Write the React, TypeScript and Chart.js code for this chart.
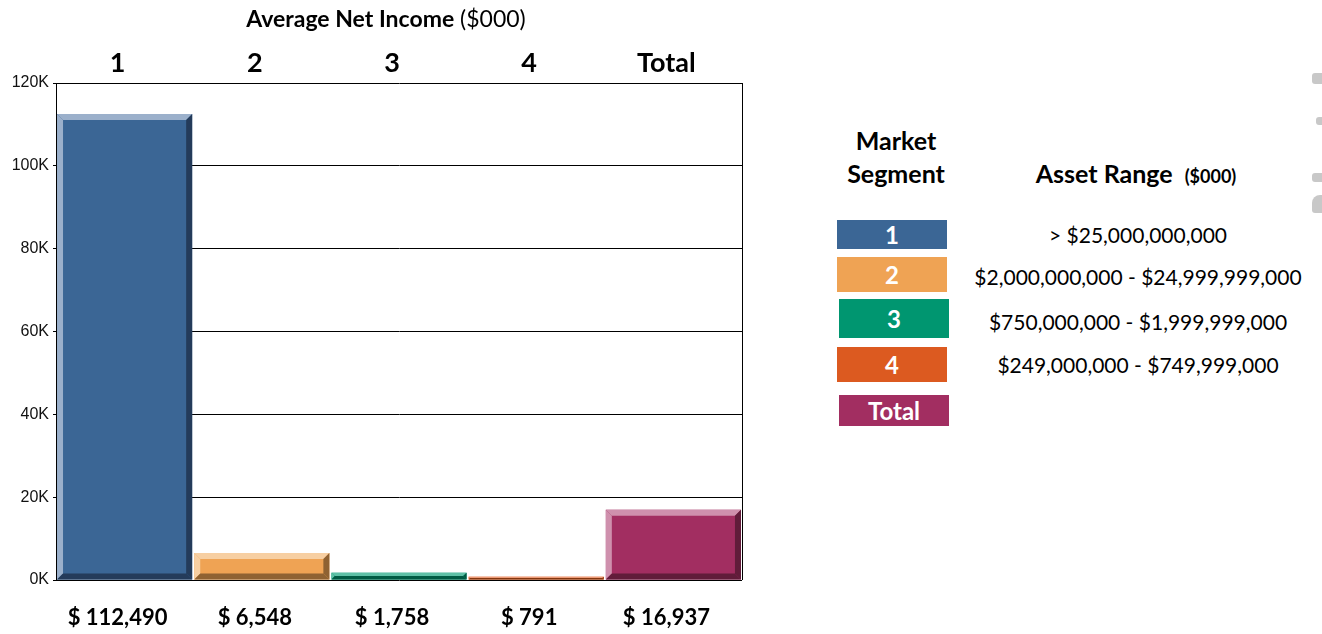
import React, { useEffect, useRef } from "react";
import { Chart, registerables } from "chart.js";

Chart.register(...registerables);

const categories = ["1", "2", "3", "4", "Total"];
const netIncome = [112490, 6548, 1758, 791, 16937];
const valueLabels = ["$ 112,490", "$ 6,548", "$ 1,758", "$ 791", "$ 16,937"];
const faceColors = ["#3B6695", "#EFA354", "#009670", "#DC5A20", "#A22E61"];
const lightColors = ["#9BB0CB", "#F7CFA2", "#5EC0A6", "#EE9C77", "#CF90AD"];
const darkColors = ["#243B5A", "#8F6232", "#005A43", "#84360F", "#611C3A"];
const yTicks = [0, 20000, 40000, 60000, 80000, 100000, 120000];
const legendSegments = ["1", "2", "3", "4", "Total"];
const assetRanges = [
  "> $25,000,000,000",
  "$2,000,000,000 - $24,999,999,000",
  "$750,000,000 - $1,999,999,000",
  "$249,000,000 - $749,999,000",
];

const bevelPlugin = {
  id: "bevel",
  afterDatasetsDraw(chart: any) {
    const ctx = chart.ctx;
    const meta = chart.getDatasetMeta(0);
    meta.data.forEach((el: any, i: number) => {
      const p = el.getProps(["x", "y", "base", "width"], true);
      const L = p.x - p.width / 2;
      const R = p.x + p.width / 2;
      const T = Math.min(p.y, p.base);
      const B = Math.max(p.y, p.base);
      const b = Math.min(6, (B - T) / 2, p.width / 2);
      const poly = (pts: number[][], c: string) => {
        ctx.beginPath();
        ctx.moveTo(pts[0][0], pts[0][1]);
        for (let k = 1; k < pts.length; k++) ctx.lineTo(pts[k][0], pts[k][1]);
        ctx.closePath();
        ctx.fillStyle = c;
        ctx.fill();
      };
      ctx.save();
      poly([[L, T], [R, T], [R - b, T + b], [L + b, T + b]], lightColors[i]);
      poly([[L, T], [L + b, T + b], [L + b, B - b], [L, B]], lightColors[i]);
      poly([[R, T], [R, B], [R - b, B - b], [R - b, T + b]], darkColors[i]);
      poly([[L, B], [L + b, B - b], [R - b, B - b], [R, B]], darkColors[i]);
      ctx.restore();
    });
  },
  afterDraw(chart: any) {
    const { ctx, chartArea } = chart;
    ctx.save();
    ctx.strokeStyle = "#000";
    ctx.lineWidth = 1;
    ctx.beginPath();
    ctx.moveTo(Math.round(chartArea.right) + 0.5, chartArea.top);
    ctx.lineTo(Math.round(chartArea.right) + 0.5, chartArea.bottom);
    ctx.stroke();
    ctx.restore();
  },
};

function BarChart() {
  const ref = useRef<HTMLCanvasElement | null>(null);
  useEffect(() => {
    if (!ref.current) return;
    const chart = new Chart(ref.current, {
      type: "bar",
      data: {
        labels: categories,
        datasets: [
          {
            data: netIncome,
            backgroundColor: faceColors,
            borderWidth: 0,
            barPercentage: 1,
            categoryPercentage: 0.985,
            xAxisID: "x",
            yAxisID: "y",
          },
        ],
      },
      options: {
        responsive: false,
        animation: false,
        devicePixelRatio: 1,
        layout: { padding: { left: 0, top: 0, right: 18, bottom: 0 } },
        plugins: { legend: { display: false }, tooltip: { enabled: false }, title: { display: false } },
        scales: {
          x: {
            type: "category",
            position: "top",
            offset: true,
            grid: { display: false, drawTicks: false },
            border: { display: false },
            ticks: {
              color: "#000",
              font: { family: "Lato", size: 27, weight: "bold" },
              padding: 4,
              labelOffset: -7,
              maxRotation: 0,
              autoSkip: false,
            },
            afterFit: (s: any) => {
              s.height = 83;
            },
          },
          xb: {
            type: "category",
            position: "bottom",
            labels: valueLabels,
            offset: true,
            grid: { display: false, drawTicks: false },
            border: { display: false },
            ticks: {
              color: "#000",
              font: { family: "Lato", size: 22, weight: "bold" },
              padding: 25,
              labelOffset: -7,
              maxRotation: 0,
              autoSkip: false,
            },
            afterFit: (s: any) => {
              s.height = 54;
            },
          },
          y: {
            min: 0,
            max: 120000,
            afterBuildTicks: (s: any) => {
              s.ticks = yTicks.map((v) => ({ value: v }));
            },
            grid: { color: "#000", lineWidth: 1, drawTicks: true, tickLength: 3, tickColor: "#000" },
            border: { display: true, color: "#000", width: 1 },
            ticks: {
              color: "#111",
              font: { family: "Liberation Sans", size: 16 },
              padding: 4,
              callback: (v: any) => Number(v) / 1000 + "K",
            },
            afterFit: (s: any) => {
              s.width = 56;
            },
          },
        },
      },
      plugins: [bevelPlugin],
    } as any);
    return () => chart.destroy();
  }, []);
  return <canvas ref={ref} width={760} height={634} style={{ display: "block" }} />;
}

const boxPos = [
  { left: 837, top: 220, w: 110, h: 29 },
  { left: 837, top: 257, w: 110, h: 35 },
  { left: 839, top: 299, w: 110, h: 39 },
  { left: 837, top: 347, w: 110, h: 35 },
  { left: 839, top: 395, w: 110, h: 31 },
];
const rangeCenters = [235, 277, 322, 365];

export default function App() {
  const font = "Lato, 'Open Sans', sans-serif";
  return (
    <div style={{ position: "absolute", left: 0, top: 0, width: 1322, height: 634, background: "#fff", overflow: "hidden", fontFamily: font }}>
      <BarChart />
      <div style={{ position: "absolute", left: 0, top: 4, width: 772, textAlign: "center", fontSize: 23, lineHeight: "28px", color: "#000", whiteSpace: "nowrap" }}>
        <b>Average Net Income</b> <span>($000)</span>
      </div>
      <div style={{ position: "absolute", left: 798, top: 124, width: 196, textAlign: "center", fontSize: 25, fontWeight: "bold", lineHeight: "33px" }}>
        Market
        <br />
        Segment
      </div>
      <div style={{ position: "absolute", left: 1000, top: 157, width: 272, textAlign: "center", fontSize: 25, fontWeight: "bold", lineHeight: "33px", whiteSpace: "nowrap" }}>
        Asset Range<span style={{ fontSize: 18, marginLeft: 12 }}>($000)</span>
      </div>
      {legendSegments.map((s, i) => (
        <div
          key={s}
          style={{
            position: "absolute",
            left: boxPos[i].left,
            top: boxPos[i].top,
            width: boxPos[i].w,
            height: boxPos[i].h,
            background: faceColors[i],
            color: "#fff",
            fontWeight: "bold",
            fontSize: 24,
            display: "flex",
            alignItems: "center",
            justifyContent: "center",
          }}
        >
          {s}
        </div>
      ))}
      {assetRanges.map((r, i) => (
        <div key={r} style={{ position: "absolute", left: 938, top: rangeCenters[i] - 13, width: 400, textAlign: "center", fontSize: 21, lineHeight: "26px", whiteSpace: "nowrap" }}>
          {r}
        </div>
      ))}
      <div style={{ position: "absolute", left: 1312, top: 73, width: 14, height: 11, background: "#c8c8c8", borderRadius: 3 }} />
      <div style={{ position: "absolute", left: 1316, top: 117, width: 10, height: 8, background: "#c8c8c8", borderRadius: 3 }} />
      <div style={{ position: "absolute", left: 1312, top: 173, width: 14, height: 9, background: "#c8c8c8", borderRadius: 3 }} />
      <div style={{ position: "absolute", left: 1312, top: 195, width: 14, height: 18, background: "#c8c8c8", borderRadius: "8px 0 0 3px" }} />
    </div>
  );
}
